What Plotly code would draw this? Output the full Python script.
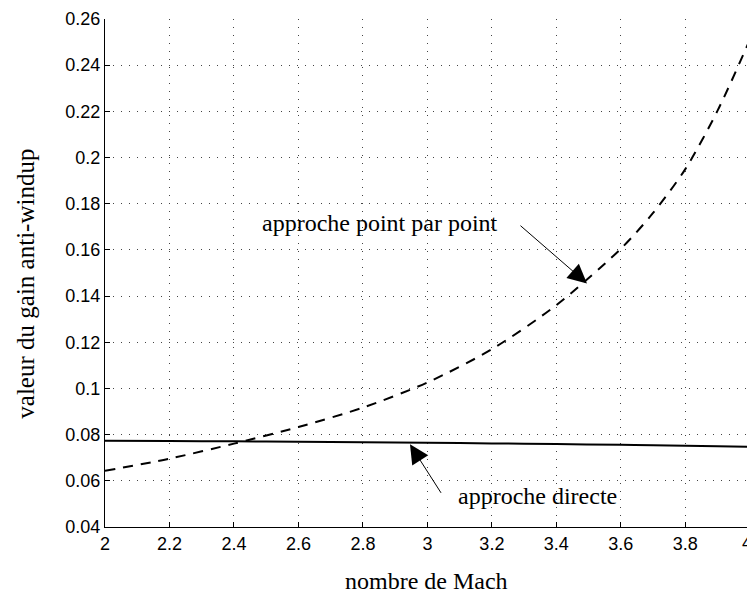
import plotly.graph_objects as go

mach = [2.0, 2.2, 2.4, 2.6, 2.8, 3.0, 3.2, 3.4, 3.6, 3.7, 3.8, 3.9, 4.0]
gain_point = [0.0643, 0.0696, 0.0761, 0.0833, 0.0917, 0.1026, 0.1170, 0.1361, 0.1605, 0.1760, 0.1950, 0.2203, 0.2510]
gain_direct = [0.0773, 0.0772, 0.0771, 0.0769, 0.0767, 0.0765, 0.0762, 0.0759, 0.0756, 0.0754, 0.0752, 0.0750, 0.0747]

xticks = [2, 2.2, 2.4, 2.6, 2.8, 3, 3.2, 3.4, 3.6, 3.8, 4]
yticks = [0.04, 0.06, 0.08, 0.1, 0.12, 0.14, 0.16, 0.18, 0.2, 0.22, 0.24, 0.26]

serif = "Liberation Serif"
sans = "Liberation Sans"

fig = go.Figure()
fig.add_trace(go.Scatter(x=mach, y=gain_point, mode="lines",
                         line=dict(color="black", width=2, dash="10px,8px", shape="spline", smoothing=0.8),
                         showlegend=False, hoverinfo="skip"))
fig.add_trace(go.Scatter(x=mach, y=gain_direct, mode="lines",
                         line=dict(color="black", width=2, shape="spline", smoothing=0.8),
                         showlegend=False, hoverinfo="skip"))

grid = dict(showgrid=True, gridcolor="#444", gridwidth=1, griddash="1px,7px")

fig.update_xaxes(range=[2, 2 + 642 / 322.4], tickvals=xticks, ticktext=[f"{v:g}" for v in xticks],
                 ticks="inside", ticklen=5, tickcolor="black", showline=True, linecolor="black", linewidth=1,
                 zeroline=False, tickfont=dict(family=sans, size=18, color="black"), **grid)
fig.update_yaxes(range=[0.04, 0.26], tickvals=yticks, ticktext=[f"{v:g}" for v in yticks],
                 ticks="inside", ticklen=5, tickcolor="black", showline=True, linecolor="black", linewidth=1,
                 zeroline=False, tickfont=dict(family=sans, size=18, color="black"), **grid)

ann = []
# arrow annotations
ann.append(dict(x=3.495, y=0.1455, xref="x", yref="y", ax=-68, ay=-59, text="", showarrow=True,
                arrowhead=2, arrowsize=3.8, arrowwidth=1, arrowcolor="black"))
ann.append(dict(x=2.946, y=0.0758, xref="x", yref="y", ax=32, ay=50, text="", showarrow=True,
                arrowhead=2, arrowsize=3.8, arrowwidth=1, arrowcolor="black"))
ann.append(dict(x=2.8517, y=0.1717, xref="x", yref="y", text="approche point par point", showarrow=False,
                font=dict(family=serif, size=24, color="black")))
ann.append(dict(x=3.342, y=0.0533, xref="x", yref="y", text="approche directe", showarrow=False,
                font=dict(family=serif, size=24, color="black")))
# axis titles
ann.append(dict(x=0.5, y=0, xref="paper", yref="paper", yshift=-54, yanchor="middle", xanchor="center",
                text="nombre de Mach", showarrow=False, font=dict(family=serif, size=24, color="black")))
ann.append(dict(x=0, y=0.479, xref="paper", yref="paper", xshift=-79, xanchor="center", yanchor="middle",
                text="valeur du gain anti-windup", textangle=-90, showarrow=False,
                font=dict(family=serif, size=25, color="black")))
# last x tick label (tick sits just beyond the visible edge)
ann.append(dict(x=1, y=0, xref="paper", yref="paper", yshift=-16, xshift=-7, yanchor="middle", xanchor="left",
                text="4", showarrow=False, font=dict(family=sans, size=18, color="black")))

fig.update_layout(width=747, height=594, margin=dict(l=105, r=0, t=19, b=67),
                  plot_bgcolor="white", paper_bgcolor="white", annotations=ann, hovermode=False)

fig.write_html("out.html")
